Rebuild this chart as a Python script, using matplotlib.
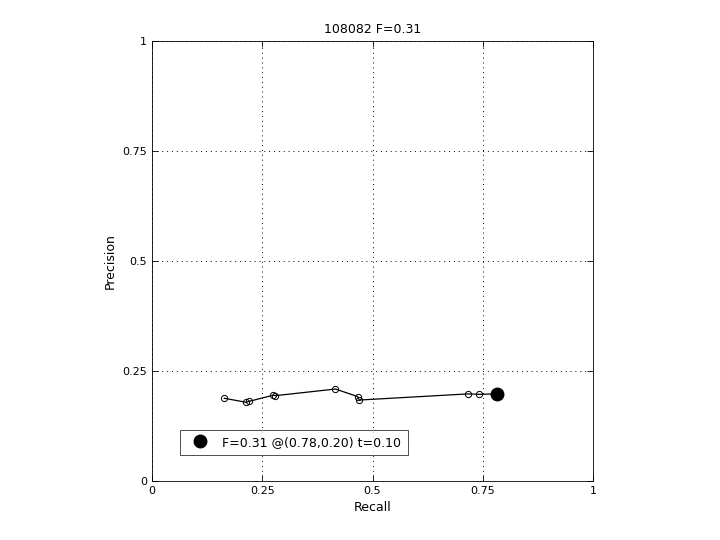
import matplotlib
matplotlib.use("Agg")
import matplotlib.pyplot as plt

# precision/recall curve points
recall = [0.164, 0.213, 0.220, 0.275, 0.280, 0.416, 0.466, 0.470, 0.717, 0.742, 0.782]
precision = [0.188, 0.179, 0.181, 0.195, 0.194, 0.209, 0.192, 0.184, 0.198, 0.197, 0.198]
best_r, best_p = 0.782, 0.198
ticks = [0, 0.25, 0.5, 0.75, 1]
tick_labels = ["0", "0.25", "0.5", "0.75", "1"]

plt.rcParams["font.family"] = ["DejaVu Sans"]
plt.rcParams["font.size"] = 8

fig = plt.figure(figsize=(7.2, 5.4), dpi=100)
ax = fig.add_axes([152 / 720, 59 / 540, 441 / 720, 440 / 540])

ax.plot(recall, precision, color="black", linewidth=0.9,
        marker="o", markersize=4.5, markerfacecolor="none", markeredgewidth=0.7)
ax.plot([best_r], [best_p], "o", color="black", markersize=9,
        label="F=0.31 @(0.78,0.20) t=0.10")

ax.set_xlim(0, 1)
ax.set_ylim(0, 1)
ax.set_xticks(ticks)
ax.set_xticklabels(tick_labels)
ax.set_yticks(ticks)
ax.set_yticklabels(tick_labels)
ax.tick_params(direction="in", length=4, width=0.6, top=True, right=True)
ax.grid(True, color="black", linestyle=(0, (1, 4)), linewidth=0.7)
for s in ax.spines.values():
    s.set_linewidth(0.6)

ax.set_xlabel("Recall", fontsize=9)
ax.set_ylabel("Precision", fontsize=9)
ax.set_title("108082 F=0.31", fontsize=9)

leg = ax.legend(loc="lower left", bbox_to_anchor=(0.063, 0.059), fontsize=9,
                frameon=True, fancybox=False, borderpad=0.5, handletextpad=0.7,
                handlelength=2.2, borderaxespad=0)
leg.get_frame().set_edgecolor("black")
leg.get_frame().set_linewidth(0.6)

fig.savefig("out.png", dpi=100)
